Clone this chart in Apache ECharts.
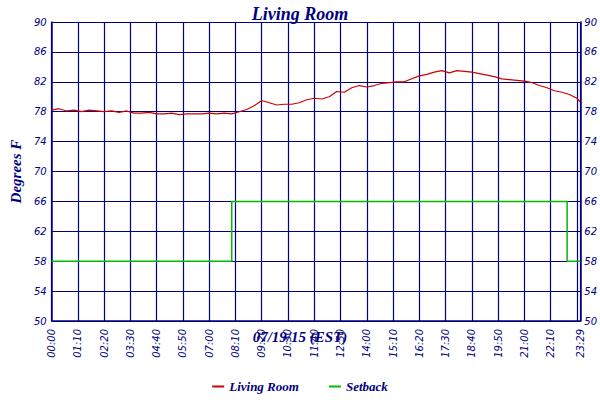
<!DOCTYPE html>
<html><head><meta charset="utf-8">
<script src="https://cdn.jsdelivr.net/npm/echarts@6/dist/echarts.min.js"></script>
<style>html,body{margin:0;background:#fff}#c{width:600px;height:400px}</style>
</head><body><div id="c"></div>
<script>
var tempTimes = [0,20,40,60,80,100,120,140,160,180,200,220,240,260,280,300,320,340,360,380,400,420,440,460,480,500,520,540,560,580,600,620,640,660,680,700,720,740,760,780,800,820,840,860,880,900,920,940,960,980,1000,1020,1040,1060,1080,1100,1120,1140,1160,1180,1200,1220,1240,1260,1280,1300,1320,1340,1360,1380,1400,1409];
var tempValues = [78.2,78.4,78.1,78.2,78.0,78.2,78.1,78.0,78.1,77.9,78.1,77.8,77.8,77.9,77.7,77.7,77.8,77.6,77.7,77.7,77.7,77.8,77.7,77.8,77.7,78.0,78.3,78.8,79.5,79.2,78.9,79.0,79.0,79.2,79.6,79.8,79.7,80.0,80.7,80.6,81.2,81.5,81.3,81.5,81.8,81.9,82.0,82.0,82.4,82.8,83.0,83.3,83.5,83.2,83.5,83.4,83.3,83.1,82.9,82.7,82.4,82.3,82.2,82.1,81.9,81.5,81.2,80.8,80.6,80.3,79.8,79.3];
var setbackTimes = [0,480,480,1374,1374,1409];
var setbackValues = [58,58,66,66,58,58];
var yMin = 50, yMax = 90, yStep = 4;
var xMax = 1409, xStep = 70;

function pair(xs, ys) { return xs.map(function(x, i) { return [x, ys[i]]; }); }
function hhmm(v) {
  var h = Math.floor(v / 60), m = Math.round(v % 60);
  return (h < 10 ? '0' : '') + h + ':' + (m < 10 ? '0' : '') + m;
}
var navy = '#000080';
var font = 'DejaVu Sans';
var nameStyle = { fill: navy, fontFamily: 'Liberation Serif', fontStyle: 'italic', fontWeight: 'bold', fontSize: 15 };
var chart = echarts.init(document.getElementById('c'), null, { renderer: 'svg' });
chart.setOption({
  animation: false,
  title: { text: 'Living Room', left: 'center', top: 0, textStyle: { color: navy, fontFamily: 'Liberation Serif', fontStyle: 'italic', fontWeight: 'bold', fontSize: 18 } },
  legend: {
    bottom: 2, itemWidth: 12, itemHeight: 2, itemGap: 30,
    icon: 'rect',
    textStyle: { color: navy, fontFamily: 'Liberation Serif', fontStyle: 'italic', fontWeight: 'bold', fontSize: 13 },
    data: ['Living Room', 'Setback']
  },
  graphic: [{ type: 'text', left: 'center', top: 329, style: Object.assign({ text: '07/19/15 (EST)' }, nameStyle) }],
  grid: { left: 40, right: 19, top: 22, bottom: 79 },
  xAxis: {
    type: 'value', min: 0, max: xMax, interval: xStep,
    axisLine: { lineStyle: { color: navy, width: 1.5 } },
    axisTick: { show: false },
    axisLabel: { rotate: 90, color: navy, fontFamily: font, fontStyle: 'italic', fontSize: 10, showMaxLabel: true, hideOverlap: false, formatter: hhmm },
    splitLine: { show: true, lineStyle: { color: navy, width: 1.2 } }
  },
  yAxis: [{
    type: 'value', min: yMin, max: yMax, interval: yStep,
    name: 'Degrees F', nameLocation: 'middle', nameGap: 24,
    nameTextStyle: { color: navy, fontFamily: 'Liberation Serif', fontStyle: 'italic', fontWeight: 'bold', fontSize: 15 },
    axisLine: { show: true, lineStyle: { color: navy, width: 1.5 } },
    axisTick: { show: false },
    axisLabel: { color: navy, fontFamily: font, fontStyle: 'italic', fontSize: 10, margin: 5 },
    splitLine: { lineStyle: { color: navy, width: 1.2 } }
  }, {
    type: 'value', min: yMin, max: yMax, interval: yStep, position: 'right',
    axisLine: { show: true, lineStyle: { color: navy, width: 1.5 } },
    axisTick: { show: false },
    axisLabel: { color: navy, fontFamily: font, fontStyle: 'italic', fontSize: 10, margin: 4 },
    splitLine: { show: false }
  }],
  series: [
    { name: 'Living Room', type: 'line', data: pair(tempTimes, tempValues), symbol: 'none', lineStyle: { color: '#cc0000', width: 1.2 }, itemStyle: { color: '#cc0000' } },
    { name: 'Setback', type: 'line', data: pair(setbackTimes, setbackValues), symbol: 'none', lineStyle: { color: '#00bb00', width: 1.5 }, itemStyle: { color: '#00bb00' } }
  ]
});
</script></body></html>
